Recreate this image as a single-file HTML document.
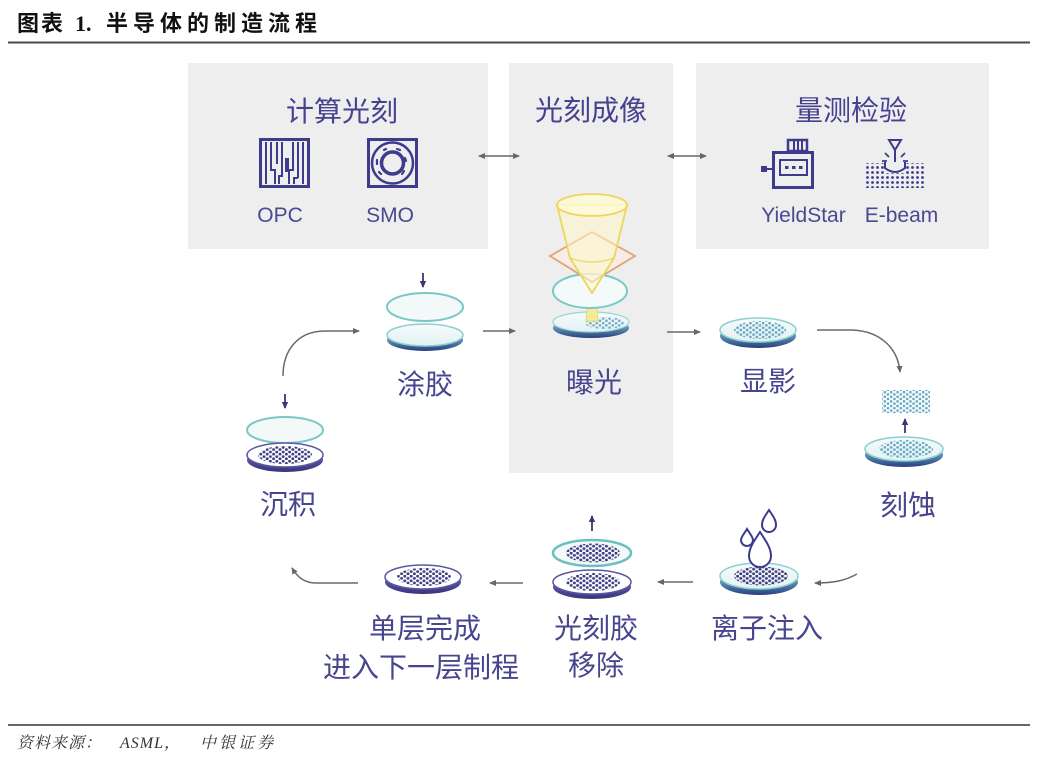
<!DOCTYPE html>
<html>
<head>
<meta charset="utf-8">
<style>
  html,body{margin:0;padding:0;background:#fff;}
  body{width:1038px;height:759px;overflow:hidden;position:relative;}
  svg{position:absolute;left:0;top:0;}
</style>
</head>
<body>
<svg width="1038" height="759" viewBox="0 0 1038 759" xmlns="http://www.w3.org/2000/svg">
  <defs>
    <linearGradient id="gB" x1="0" y1="0" x2="0" y2="1">
      <stop offset="0" stop-color="#a6dcdc"/>
      <stop offset="0.5" stop-color="#5f8fb4"/>
      <stop offset="1" stop-color="#26407e"/>
    </linearGradient>
    <linearGradient id="gP" x1="0" y1="0" x2="0" y2="1">
      <stop offset="0" stop-color="#7570b6"/>
      <stop offset="1" stop-color="#39337e"/>
    </linearGradient>
    <linearGradient id="gTop" x1="0" y1="0" x2="0" y2="1">
      <stop offset="0" stop-color="#f6fbfb"/>
      <stop offset="1" stop-color="#e3f1f3"/>
    </linearGradient>
    <pattern id="dp" width="6.4" height="4.6" patternUnits="userSpaceOnUse">
      <circle cx="1.6" cy="1.15" r="1.45" fill="#3f3a82"/>
      <circle cx="4.8" cy="3.45" r="1.45" fill="#3f3a82"/>
    </pattern>
    <pattern id="dc" width="6.4" height="4.6" patternUnits="userSpaceOnUse">
      <circle cx="1.6" cy="1.15" r="1.35" fill="#62a8c2"/>
      <circle cx="4.8" cy="3.45" r="1.35" fill="#62a8c2"/>
    </pattern>
    <pattern id="gp" width="5" height="5" patternUnits="userSpaceOnUse">
      <circle cx="2.5" cy="2.5" r="1.4" fill="#3e3a8c"/>
    </pattern>
    <marker id="ah" markerWidth="7" markerHeight="7" refX="6" refY="3.5" orient="auto" markerUnits="userSpaceOnUse">
      <path d="M0,0.5 L7,3.5 L0,6.5 z" fill="#666"/>
    </marker>
    <marker id="ah2" markerWidth="7" markerHeight="7" refX="6" refY="3.5" orient="auto-start-reverse" markerUnits="userSpaceOnUse">
      <path d="M0,0.5 L7,3.5 L0,6.5 z" fill="#666"/>
    </marker>
    <marker id="ai" markerWidth="7" markerHeight="7" refX="6" refY="3.5" orient="auto" markerUnits="userSpaceOnUse">
      <path d="M0,0.3 L7,3.5 L0,6.7 z" fill="#3a3775"/>
    </marker>
  </defs>

  <!-- Title -->
  <g font-family="'Liberation Serif','Noto Sans CJK SC',sans-serif" font-weight="700" font-size="22" fill="#111">
    <text x="17" y="31" letter-spacing="2">图表</text>
    <text x="75" y="31">1.</text>
    <text x="106" y="31" letter-spacing="5">半导体的制造流程</text>
  </g>
  <line x1="8" y1="42.5" x2="1030" y2="42.5" stroke="#4a4a4a" stroke-width="2"/>

  <!-- Panels -->
  <rect x="188" y="63" width="300" height="186" fill="#eeeeee"/>
  <rect x="509" y="63" width="164" height="410" fill="#eeeeee"/>
  <rect x="696" y="63" width="293" height="186" fill="#eeeeee"/>

  <!-- Panel titles -->
  <g font-family="'Liberation Sans','Noto Sans CJK SC',sans-serif" font-size="28" fill="#46428f" text-anchor="middle">
    <text x="342" y="121">计算光刻</text>
    <text x="591" y="120">光刻成像</text>
    <text x="851" y="120">量测检验</text>
  </g>

  <!-- Double arrows -->
  <line x1="479" y1="156" x2="519" y2="156" stroke="#666" stroke-width="1.5" marker-start="url(#ah2)" marker-end="url(#ah2)"/>
  <line x1="668" y1="156" x2="706" y2="156" stroke="#666" stroke-width="1.5" marker-start="url(#ah2)" marker-end="url(#ah2)"/>

  <!-- OPC icon -->
  <g stroke="#3e3a8c" fill="none">
    <rect x="260.5" y="139.5" width="48" height="47" stroke-width="3"/>
    <g stroke-width="2">
      <path d="M266,142 V184"/>
      <path d="M271,142 V170 H275 V184"/>
      <path d="M277,142 V164"/>
      <path d="M282,142 V176 H279 V184"/>
      <path d="M293,142 V170 H289 V184"/>
      <path d="M298,142 V178"/>
      <path d="M303,142 V184"/>
      <path d="M294,184 V178 H298"/>
    </g>
    <rect x="285" y="158" width="4" height="14" fill="#3e3a8c" stroke="none"/>
  </g>

  <!-- SMO icon -->
  <g stroke="#3e3a8c" fill="none">
    <rect x="368.5" y="139.5" width="48" height="47" stroke-width="3"/>
    <circle cx="392.5" cy="163" r="20.5" stroke-width="2.5"/>
    <circle cx="392.5" cy="163" r="11" stroke-width="3.5"/>
    <g stroke-width="2.2" stroke-linecap="round">
      <path d="M384,150 l2,-1"/>
      <path d="M397,149 l3,1"/>
      <path d="M405,158 l1,3"/>
      <path d="M404,171 l-2,3"/>
      <path d="M381,174 l-2,-2"/>
      <path d="M377,160 l0,4"/>
    </g>
  </g>

  <!-- YieldStar icon -->
  <g stroke="#3e3a8c" fill="none">
    <rect x="788" y="140" width="19" height="11" stroke-width="2.5"/>
    <path d="M794,141 V151 M798,141 V151 M802,141 V151" stroke-width="2"/>
    <rect x="773.5" y="152.5" width="39" height="35" stroke-width="3"/>
    <rect x="780" y="160" width="27" height="15" stroke-width="2"/>
    <path d="M767,169 H773" stroke-width="2"/>
    <rect x="761" y="166" width="6" height="6" fill="#3e3a8c" stroke="none"/>
    <rect x="785" y="166" width="3.5" height="3" fill="#3e3a8c" stroke="none"/>
    <rect x="792" y="166" width="3.5" height="3" fill="#3e3a8c" stroke="none"/>
    <rect x="799" y="166" width="3.5" height="3" fill="#3e3a8c" stroke="none"/>
  </g>

  <!-- E-beam icon -->
  <g stroke="#3e3a8c" fill="none">
    <path d="M889,140 H901 L895,150 Z" stroke-width="2"/>
    <path d="M895,150 V162" stroke-width="2"/>
    <path d="M885,153 l4,4 M905,153 l-4,4 M882,161 h5 M908,161 h-5" stroke-width="1.8"/>
    <path d="M885,162 V168 Q895,176 905,168 V162" stroke-width="2"/>
  </g>
  <rect x="865" y="163" width="20" height="10" fill="url(#gp)"/>
  <rect x="905" y="163" width="20" height="10" fill="url(#gp)"/>
  <rect x="865" y="173" width="60" height="15" fill="url(#gp)"/>

  <!-- Latin labels -->
  <g font-family="'Liberation Sans',sans-serif" font-size="21" fill="#4b4892" text-anchor="middle">
    <text x="280" y="222">OPC</text>
    <text x="390" y="222">SMO</text>
    <text x="803.5" y="222">YieldStar</text>
    <text x="901.5" y="222">E-beam</text>
  </g>

  <!-- Exposure illustration -->
  <g>
    <ellipse cx="591" cy="328" rx="38" ry="10" fill="url(#gB)"/>
    <ellipse cx="591" cy="322" rx="38" ry="10" fill="url(#gTop)" stroke="#9ad3d3" stroke-width="1.2"/>
    <ellipse cx="605" cy="323" rx="20" ry="6" fill="url(#dc)" opacity="0.9"/>
    <path d="M589,292 L595,292 L598,321 L586,321 Z" fill="#f5ea9a" stroke="#e8d560" stroke-width="0.8"/>
    <ellipse cx="590" cy="291" rx="37" ry="17" fill="#f4fafa" stroke="#78c8c8" stroke-width="2"/>
    <path d="M550,256 L592,232 L635,256 L592,282 Z" fill="rgba(250,235,225,0.5)" stroke="#e8a070" stroke-width="1.8"/>
    <path d="M557,205 L570,258 L592,293 L614,258 L627,205 Z" fill="rgba(255,248,200,0.55)" stroke="#ecd75c" stroke-width="1.8"/>
    <path d="M570,258 Q592,266 614,258" fill="none" stroke="#ecd75c" stroke-width="1.2"/>
    <ellipse cx="592" cy="205" rx="35" ry="11" fill="rgba(255,250,215,0.8)" stroke="#ecd75c" stroke-width="1.8"/>
  </g>

  <!-- Step labels -->
  <g font-family="'Liberation Sans','Noto Sans CJK SC',sans-serif" font-size="28" fill="#48458f" text-anchor="middle">
    <text x="594" y="392">曝光</text>
    <text x="425" y="394">涂胶</text>
    <text x="768" y="391">显影</text>
    <text x="288" y="514">沉积</text>
    <text x="908" y="515">刻蚀</text>
    <text x="596" y="638">光刻胶</text>
    <text x="596" y="675">移除</text>
    <text x="767" y="638">离子注入</text>
    <text x="425" y="638">单层完成</text>
    <text x="421" y="677">进入下一层制程</text>
  </g>

  <!-- 涂胶 -->
  <line x1="423" y1="273" x2="423" y2="287" stroke="#3a3775" stroke-width="1.8" marker-end="url(#ai)"/>
  <ellipse cx="425" cy="307" rx="38" ry="14" fill="#f3f9f9" stroke="#78c8c8" stroke-width="2"/>
  <ellipse cx="425" cy="340" rx="38" ry="11" fill="url(#gB)"/>
  <ellipse cx="425" cy="335" rx="38" ry="11" fill="url(#gTop)" stroke="#8ccfd0" stroke-width="1.5"/>

  <!-- 沉积 -->
  <line x1="285" y1="394" x2="285" y2="408" stroke="#3a3775" stroke-width="1.8" marker-end="url(#ai)"/>
  <ellipse cx="285" cy="430" rx="38" ry="13" fill="#f3f9f9" stroke="#78c8c8" stroke-width="2"/>
  <ellipse cx="285" cy="460" rx="38" ry="12" fill="url(#gP)"/>
  <ellipse cx="285" cy="455" rx="38" ry="12" fill="#fff" stroke="#5c57a3" stroke-width="1.5"/>
  <ellipse cx="285" cy="455" rx="27" ry="9" fill="url(#dp)"/>

  <!-- 显影 -->
  <ellipse cx="758" cy="336" rx="38" ry="12" fill="url(#gB)"/>
  <ellipse cx="758" cy="330" rx="38" ry="12" fill="url(#gTop)" stroke="#8ccfd0" stroke-width="1.5"/>
  <ellipse cx="760" cy="330" rx="26" ry="9" fill="url(#dc)"/>

  <!-- 刻蚀 -->
  <rect x="882" y="390" width="48" height="23" fill="url(#dc)"/>
  <line x1="905" y1="433" x2="905" y2="419" stroke="#3a3775" stroke-width="1.8" marker-end="url(#ai)"/>
  <ellipse cx="904" cy="455" rx="39" ry="12" fill="url(#gB)"/>
  <ellipse cx="904" cy="449" rx="39" ry="12" fill="url(#gTop)" stroke="#8ccfd0" stroke-width="1.5"/>
  <ellipse cx="906" cy="449" rx="27" ry="9" fill="url(#dc)"/>

  <!-- 离子注入 -->
  <ellipse cx="759" cy="582" rx="39" ry="13" fill="url(#gB)"/>
  <ellipse cx="759" cy="576" rx="39" ry="13" fill="url(#gTop)" stroke="#8ccfd0" stroke-width="1.5"/>
  <ellipse cx="761" cy="576" rx="27" ry="9.5" fill="url(#dp)"/>
  <g stroke="#3e3a8c" stroke-width="2" fill="#fff">
    <path d="M760,532 C766,541 771,548 771,556 A11,11 0 0 1 749,556 C749,548 754,541 760,532 Z"/>
    <path d="M747,529 C750,534 753,537 753,540 A6,6 0 0 1 741,540 C741,537 744,534 747,529 Z"/>
    <path d="M769,510 C773,516 776,520 776,525 A7,7 0 0 1 762,525 C762,520 765,516 769,510 Z"/>
  </g>

  <!-- 光刻胶移除 -->
  <line x1="592" y1="531" x2="592" y2="516" stroke="#3a3775" stroke-width="1.8" marker-end="url(#ai)"/>
  <ellipse cx="592" cy="587" rx="39" ry="12" fill="url(#gP)"/>
  <ellipse cx="592" cy="582" rx="39" ry="12" fill="#fff" stroke="#5c57a3" stroke-width="1.5"/>
  <ellipse cx="593" cy="582" rx="27" ry="9" fill="url(#dp)"/>
  <ellipse cx="592" cy="553" rx="39" ry="13" fill="#f3f9f9" stroke="#6cbfbf" stroke-width="2.5"/>
  <ellipse cx="593" cy="553" rx="27" ry="9.5" fill="url(#dp)"/>

  <!-- 单层完成 -->
  <ellipse cx="423" cy="582" rx="38" ry="12" fill="url(#gP)"/>
  <ellipse cx="423" cy="577" rx="38" ry="12" fill="#fff" stroke="#5c57a3" stroke-width="1.5"/>
  <ellipse cx="424" cy="577" rx="27" ry="9" fill="url(#dp)"/>

  <!-- Flow arrows -->
  <g stroke="#6a6a6a" stroke-width="1.5" fill="none">
    <path d="M283,376 C283,350 298,331 325,331 L359,331" marker-end="url(#ah)"/>
    <line x1="483" y1="331" x2="515" y2="331" marker-end="url(#ah)"/>
    <line x1="667" y1="332" x2="700" y2="332" marker-end="url(#ah)"/>
    <path d="M817,330 L852,330 C880,331 898,348 900,372" marker-end="url(#ah)"/>
    <path d="M857,574 C846,580 836,583 815,583" marker-end="url(#ah)"/>
    <line x1="693" y1="582" x2="658" y2="582" marker-end="url(#ah)"/>
    <line x1="523" y1="583" x2="490" y2="583" marker-end="url(#ah)"/>
    <path d="M358,583 L316,583 C305,583 298,578 292,568" marker-end="url(#ah)"/>
  </g>

  <!-- Footer -->
  <line x1="8" y1="725" x2="1030" y2="725" stroke="#333" stroke-width="1.5"/>
  <g font-family="'Liberation Serif','Noto Serif CJK SC',serif" font-style="italic" fill="#333">
    <text x="17" y="748" font-size="16" letter-spacing="1">资料来源：</text>
    <text x="120" y="748" font-size="16" letter-spacing="1">ASML，</text>
    <text x="200" y="748" font-size="16" letter-spacing="3">中银证券</text>
  </g>
</svg>
</body>
</html>
